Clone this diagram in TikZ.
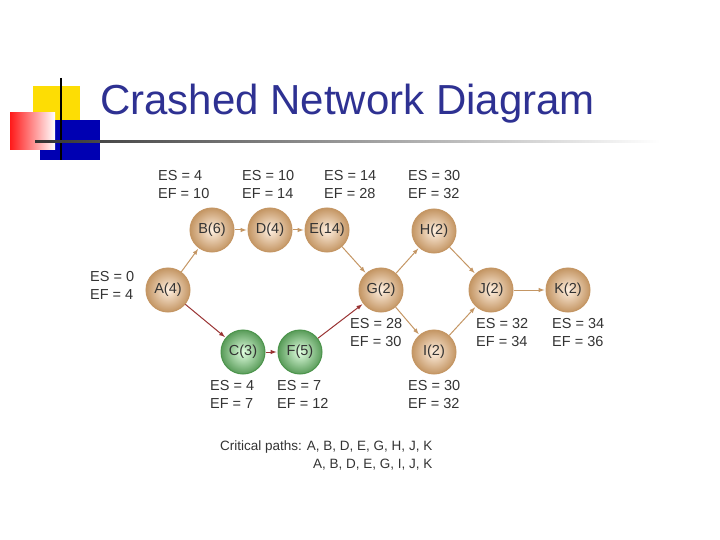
\documentclass[tikz,border=0pt]{standalone}
\usepackage{fontspec}
\setmainfont{Liberation Sans}
\definecolor{tb}{RGB}{46,49,146}
\definecolor{tan}{RGB}{196,150,100}
\begin{document}
\begin{tikzpicture}[x=1pt,y=-1pt,
 ev/.style={circle,minimum size=44pt,inner sep=0pt,font=\fontsize{14.5}{16}\selectfont,text=black!80,
   draw=tan,line width=1pt,shading=radial,inner color=orange!12,outer color=tan},
 cr/.style={ev,draw=green!40!black!70,inner color=green!12,outer color=green!40!black!65},
 lb/.style={font=\fontsize{14.5}{18}\selectfont,text=black!80,align=left,anchor=north west,inner sep=0pt},
 ar/.style={->,>=latex,draw=tan,line width=1pt,shorten >=1pt},
 rr/.style={->,>=latex,draw=red!50!black!80,line width=1pt,shorten >=1pt}]
\useasboundingbox (0,0) rectangle (720,540);
% logo
\fill[yellow!80!orange] (33,86) rectangle (80,125);
\fill[blue!70!black] (40,120) rectangle (100,160);
\shade[left color=red!90, right color=white] (10,113) rectangle (55,150);
\draw[black,line width=2pt] (61,78) -- (61,160);
\shade[left color=black!80,right color=white] (35,141) rectangle (660,143);
\node[anchor=west,font=\fontsize{42}{46}\selectfont,text=tb,inner sep=0pt] (title) at (100,104) {Crashed Network Diagram};
% nodes
\node[ev] (A) at (168,290) {A(4)};
\node[ev] (B) at (212,230) {B(6)};
\node[ev] (D) at (270,230) {D(4)};
\node[ev] (E) at (327,230) {E(14)};
\node[ev] (G) at (381,290) {G(2)};
\node[ev] (H) at (434,231) {H(2)};
\node[ev] (I) at (434,352) {I(2)};
\node[ev] (J) at (491,290) {J(2)};
\node[ev] (K) at (568,290) {K(2)};
\node[cr] (C) at (243,352) {C(3)};
\node[cr] (F) at (300,352) {F(5)};
\draw[ar] (A) -- (B); \draw[ar] (B) -- (D); \draw[ar] (D) -- (E); \draw[ar] (E) -- (G);
\draw[ar] (G) -- (H); \draw[ar] (G) -- (I); \draw[ar] (H) -- (J); \draw[ar] (I) -- (J); \draw[ar] (J) -- (K);
\draw[rr] (A) -- (C); \draw[rr] (C) -- (F); \draw[rr] (F) -- (G);
% labels
\node[lb] (lA) at (90,271) {ES = 0\\EF = 4};
\node[lb] (lB) at (158,170) {ES = 4\\EF = 10};
\node[lb] (lD) at (242,170) {ES = 10\\EF = 14};
\node[lb] (lE) at (324,170) {ES = 14\\EF = 28};
\node[lb] (lH) at (408,170) {ES = 30\\EF = 32};
\node[lb] (lG) at (350,318) {ES = 28\\EF = 30};
\node[lb] (lJ) at (476,318) {ES = 32\\EF = 34};
\node[lb] (lK) at (552,318) {ES = 34\\EF = 36};
\node[lb] (lC) at (210,380) {ES = 4\\EF = 7};
\node[lb] (lF) at (277,380) {ES = 7\\EF = 12};
\node[lb] (lI) at (408,380) {ES = 30\\EF = 32};
\node[lb,font=\fontsize{13.5}{18}\selectfont] (cp) at (220,441) {Critical paths: A, B, D, E, G, H, J, K\\\hspace*{93pt}A, B, D, E, G, I, J, K};
\end{tikzpicture}
\end{document}
